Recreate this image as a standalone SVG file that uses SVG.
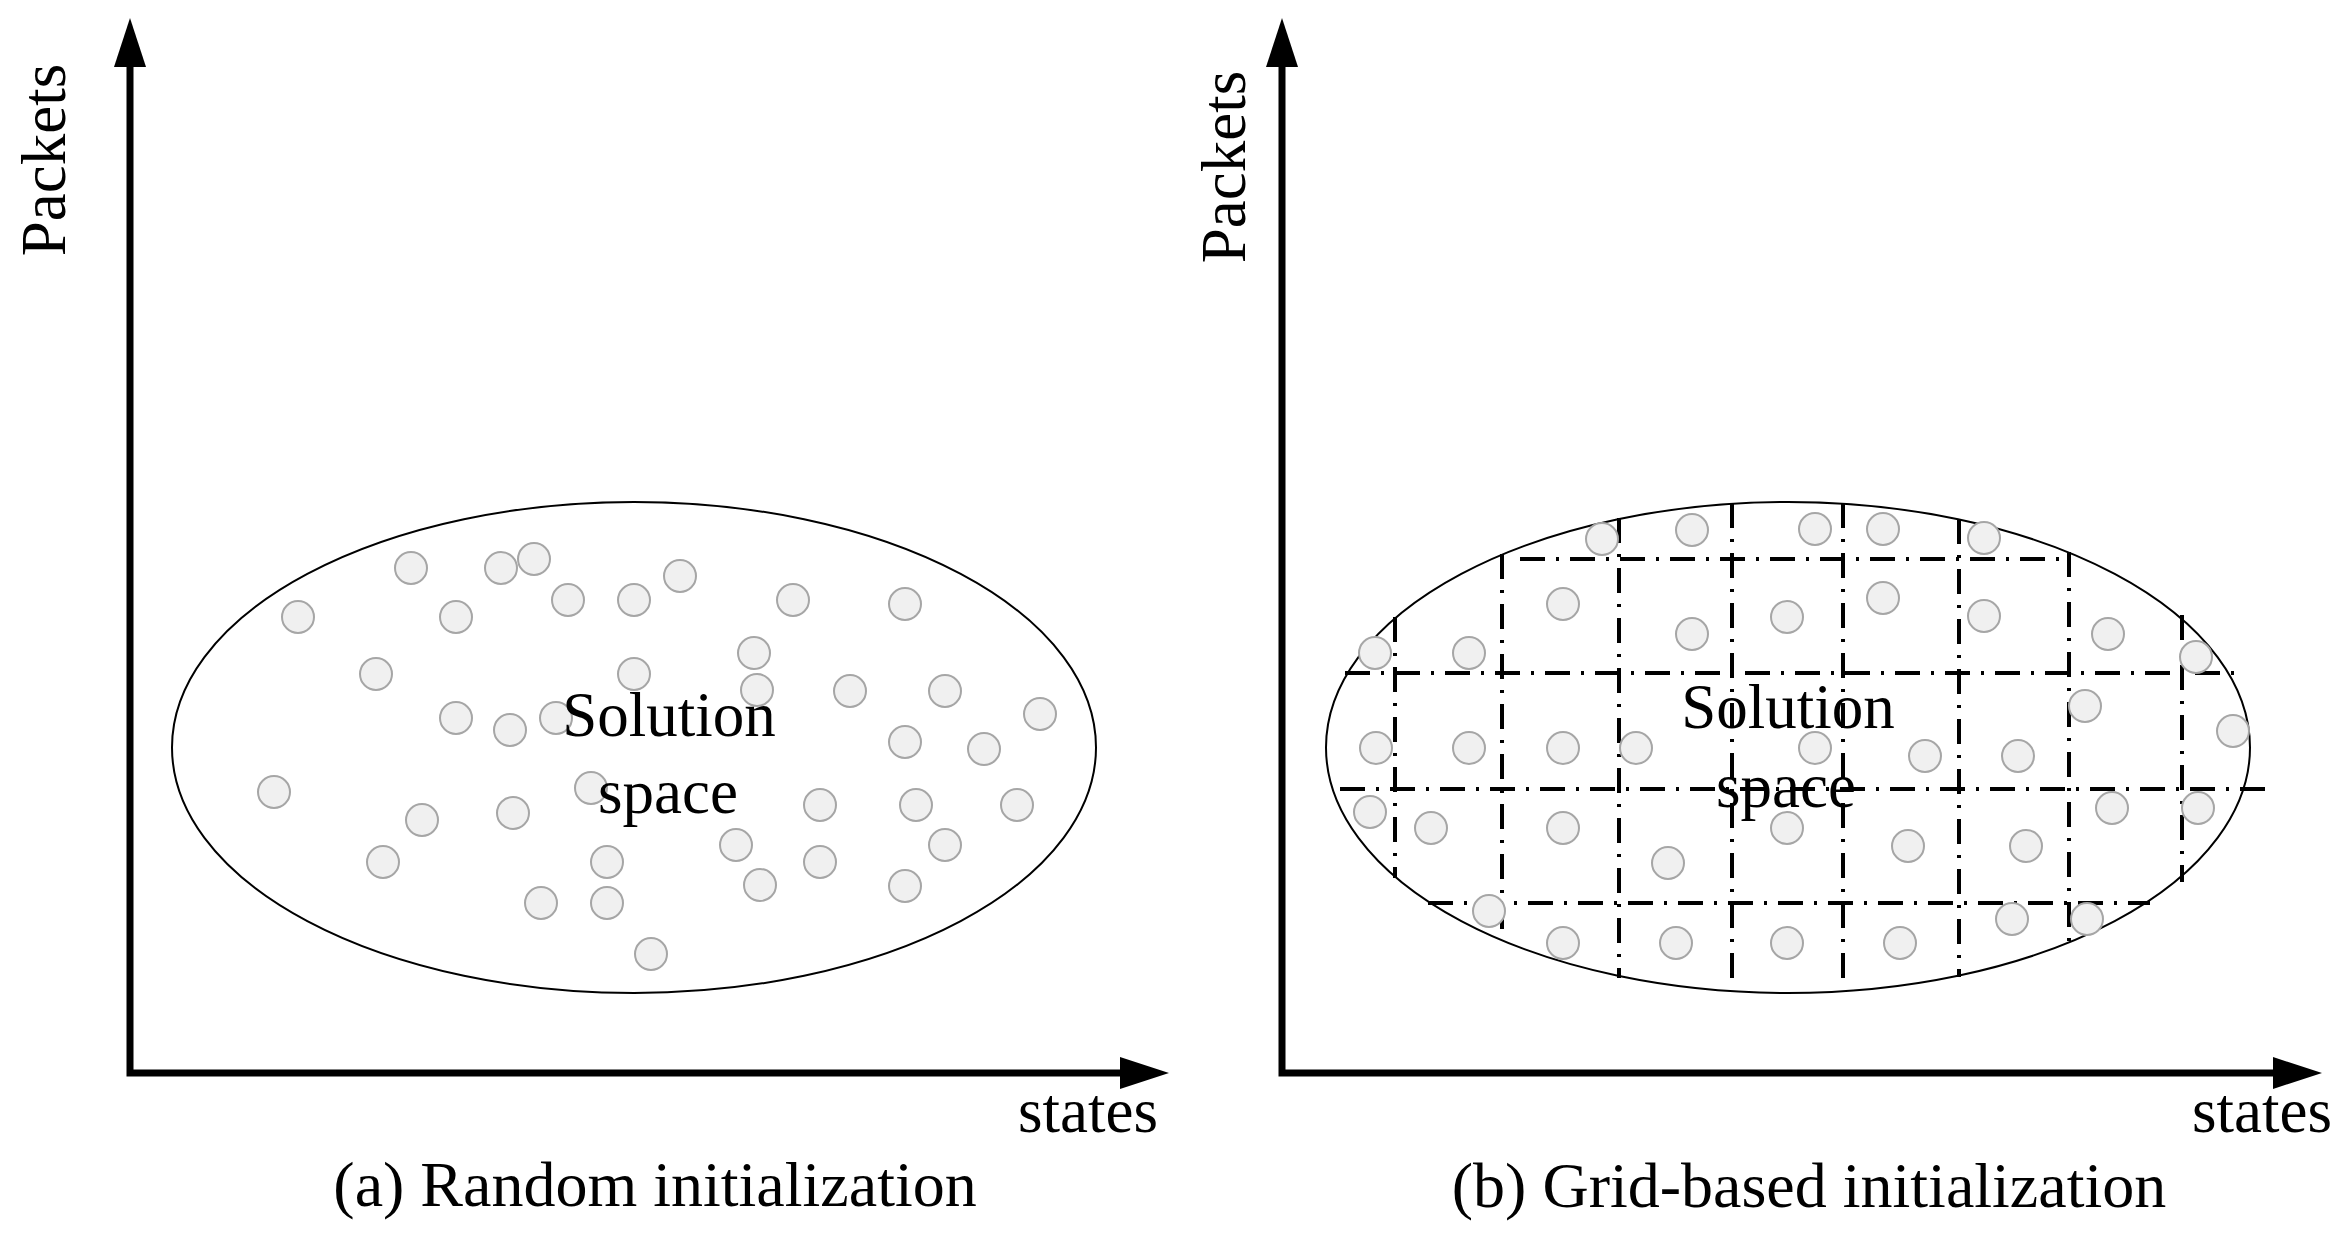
<svg xmlns="http://www.w3.org/2000/svg" width="2350" height="1240" viewBox="0 0 2350 1240">
<style>
.txt{font-family:"Liberation Serif","Times New Roman",serif;font-size:63px;fill:#000}
.cap{font-size:64px}
.axis{fill:none;stroke:#000;stroke-width:7;stroke-linejoin:miter}
.space{fill:none;stroke:#000;stroke-width:2}
.grid{stroke:#000;stroke-width:4;stroke-dasharray:25 11 3 11;fill:none}
.pt{fill:#f0f0f0;stroke:#a6a6a6;stroke-width:2}
</style>
<defs>
<marker id="arrow" viewBox="0 0 49 32" refX="0" refY="16" markerWidth="49" markerHeight="32" markerUnits="userSpaceOnUse" orient="auto-start-reverse">
<path d="M0,0 L49,16 L0,32 Z" fill="#000"/>
</marker>
<circle id="p" r="16" class="pt"/>
</defs>
<rect width="2350" height="1240" fill="#fff"/>

<g id="connectors">
<path class="axis" d="M130,67 L130,1073 L1120,1073" marker-start="url(#arrow)" marker-end="url(#arrow)"/>
<path class="axis" d="M1282,67 L1282,1073 L2273,1073" marker-start="url(#arrow)" marker-end="url(#arrow)"/>
</g>

<g id="panel-a">
<g id="solution-space-a">
<ellipse cx="634" cy="747.5" rx="462" ry="245.5" class="space"/>
</g>
<g id="particles-a">
<use href="#p" x="411" y="568"/><use href="#p" x="501" y="568"/><use href="#p" x="534" y="559"/><use href="#p" x="680" y="576"/>
<use href="#p" x="298" y="617"/><use href="#p" x="456" y="617"/><use href="#p" x="568" y="600"/><use href="#p" x="634" y="600"/>
<use href="#p" x="793" y="600"/><use href="#p" x="905" y="604"/><use href="#p" x="376" y="674"/><use href="#p" x="634" y="674"/>
<use href="#p" x="754" y="653"/><use href="#p" x="757" y="690"/><use href="#p" x="850" y="691"/><use href="#p" x="945" y="691"/>
<use href="#p" x="1040" y="714"/><use href="#p" x="456" y="718"/><use href="#p" x="510" y="730"/><use href="#p" x="556" y="718"/>
<use href="#p" x="905" y="742"/><use href="#p" x="984" y="749"/><use href="#p" x="274" y="792"/><use href="#p" x="591" y="788"/>
<use href="#p" x="422" y="820"/><use href="#p" x="513" y="813"/><use href="#p" x="820" y="805"/><use href="#p" x="916" y="805"/>
<use href="#p" x="1017" y="805"/><use href="#p" x="383" y="862"/><use href="#p" x="607" y="862"/><use href="#p" x="736" y="845"/>
<use href="#p" x="820" y="862"/><use href="#p" x="945" y="845"/><use href="#p" x="760" y="885"/><use href="#p" x="905" y="886"/>
<use href="#p" x="541" y="903"/><use href="#p" x="607" y="903"/><use href="#p" x="651" y="954"/>
</g>
<g id="label-a">
<text class="txt" x="669" y="736" text-anchor="middle">Solution</text>
<text class="txt" x="668" y="813" text-anchor="middle">space</text>
<text class="txt" transform="translate(65,160) rotate(-90)" text-anchor="middle">Packets</text>
<text class="txt" x="1088" y="1132" text-anchor="middle">states</text>
<text class="txt cap" x="655" y="1206" text-anchor="middle">(a) Random initialization</text>
</g>
</g>

<g id="panel-b">
<g id="solution-space-b">
<ellipse cx="1788" cy="747.5" rx="462" ry="245.5" class="space"/>
</g>
<g id="grid-b">
<line class="grid" x1="1520" y1="559" x2="2066" y2="559"/>
<line class="grid" x1="1345" y1="673" x2="2245" y2="673"/>
<line class="grid" x1="1340" y1="789" x2="2265" y2="789"/>
<line class="grid" x1="1428" y1="903" x2="2150" y2="903"/>
<line class="grid" x1="1395" y1="617" x2="1395" y2="878"/>
<line class="grid" x1="1502" y1="554" x2="1502" y2="930"/>
<line class="grid" x1="1619" y1="518" x2="1619" y2="978"/>
<line class="grid" x1="1732" y1="503" x2="1732" y2="982"/>
<line class="grid" x1="1843" y1="503" x2="1843" y2="980"/>
<line class="grid" x1="1959" y1="519" x2="1959" y2="977"/>
<line class="grid" x1="2069" y1="552" x2="2069" y2="943"/>
<line class="grid" x1="2182" y1="615" x2="2182" y2="882"/>
</g>
<g id="particles-b">
<use href="#p" x="1602" y="539"/><use href="#p" x="1692" y="530"/><use href="#p" x="1815" y="529"/><use href="#p" x="1883" y="529"/>
<use href="#p" x="1984" y="538"/><use href="#p" x="1563" y="604"/><use href="#p" x="1692" y="634"/><use href="#p" x="1787" y="617"/>
<use href="#p" x="1883" y="598"/><use href="#p" x="1984" y="616"/><use href="#p" x="2108" y="634"/><use href="#p" x="1375" y="653"/>
<use href="#p" x="1469" y="653"/><use href="#p" x="2196" y="657"/><use href="#p" x="2085" y="706"/><use href="#p" x="2233" y="731"/>
<use href="#p" x="1376" y="748"/><use href="#p" x="1469" y="748"/><use href="#p" x="1563" y="748"/><use href="#p" x="1636" y="748"/>
<use href="#p" x="1815" y="748"/><use href="#p" x="1925" y="756"/><use href="#p" x="2018" y="756"/><use href="#p" x="1370" y="812"/>
<use href="#p" x="1431" y="828"/><use href="#p" x="1563" y="828"/><use href="#p" x="1787" y="828"/><use href="#p" x="2112" y="808"/>
<use href="#p" x="2198" y="808"/><use href="#p" x="1668" y="863"/><use href="#p" x="1908" y="846"/><use href="#p" x="2026" y="846"/>
<use href="#p" x="1489" y="911"/><use href="#p" x="2012" y="919"/><use href="#p" x="2087" y="919"/><use href="#p" x="1563" y="943"/>
<use href="#p" x="1676" y="943"/><use href="#p" x="1787" y="943"/><use href="#p" x="1900" y="943"/>
</g>
<g id="label-b">
<text class="txt" x="1788" y="728" text-anchor="middle">Solution</text>
<text class="txt" x="1786" y="807" text-anchor="middle">space</text>
<text class="txt" transform="translate(1245,167) rotate(-90)" text-anchor="middle">Packets</text>
<text class="txt" x="2262" y="1132" text-anchor="middle">states</text>
<text class="txt cap" x="1809" y="1207" text-anchor="middle">(b) Grid-based initialization</text>
</g>
</g>
</svg>
